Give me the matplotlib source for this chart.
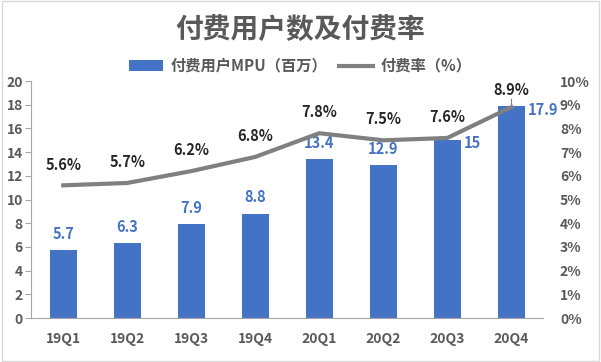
import matplotlib
matplotlib.use("Agg")
import matplotlib.pyplot as plt
from matplotlib.patches import Rectangle

plt.rcParams['font.family'] = ['Noto Sans CJK SC', 'DejaVu Sans']

quarters = ["19Q1", "19Q2", "19Q3", "19Q4", "20Q1", "20Q2", "20Q3", "20Q4"]
mpu = [5.7, 6.3, 7.9, 8.8, 13.4, 12.9, 15, 17.9]
rate = [5.6, 5.7, 6.2, 6.8, 7.8, 7.5, 7.6, 8.9]
mpu_text = ["5.7", "6.3", "7.9", "8.8", "13.4", "12.9", "15", "17.9"]

BLUE = "#4472C4"
GRAY = "#808080"
TXT = "#595959"

fig = plt.figure(figsize=(6.01, 3.62), dpi=100)
fig.patches.append(Rectangle((0.003, 0.004), 0.994, 0.992, transform=fig.transFigure,
                             fill=False, edgecolor="#d9d9d9", lw=1))
ax = fig.add_axes([0.052, 0.1215, 0.852, 0.6545])
ax2 = ax.twinx()

x = range(len(quarters))
bars = ax.bar(x, mpu, width=0.42, color=BLUE, zorder=2)
ln, = ax2.plot(x, rate, color=GRAY, lw=3, zorder=3)

ax.set_xlim(-0.5, len(quarters) - 0.5)
ax.set_ylim(0, 20)
ax.set_yticks(range(0, 21, 2))
ax2.set_ylim(0, 10)
ax2.set_yticks(range(0, 11))
ax2.set_yticklabels([f"{v}%" for v in range(0, 11)])
ax.set_xticks(list(x))
ax.set_xticklabels(quarters)

for a in (ax, ax2):
    for s in ("top", "right"):
        a.spines[s].set_visible(False)
ax2.spines["left"].set_visible(False)
ax2.spines["bottom"].set_visible(False)
ax.spines["left"].set_color("#a6a6a6")
ax.spines["bottom"].set_color("#a6a6a6")
ax.tick_params(axis="y", colors=TXT, labelsize=10, length=4, color="#a6a6a6", pad=2)
ax.tick_params(axis="x", colors=TXT, labelsize=10, length=0, pad=10)
ax2.tick_params(axis="y", colors=TXT, labelsize=10, length=0, pad=12)
for lab in ax.get_xticklabels() + ax.get_yticklabels() + ax2.get_yticklabels():
    lab.set_fontweight("bold")

# bar labels (last two sit to the right of the bar)
for i, (v, t) in enumerate(zip(mpu, mpu_text)):
    if i >= len(mpu) - 2:
        ax.annotate(t, (i + 0.21, v), xytext=(2, -3 if i == len(mpu) - 1 else -2),
                    textcoords="offset points", ha="left", va="center",
                    color=BLUE, fontsize=10.5, fontweight="bold", zorder=4)
    else:
        ax.annotate(t, (i, v), xytext=(0, 12), textcoords="offset points",
                    ha="center", va="center", color=BLUE, fontsize=10.5,
                    fontweight="bold")

for i, r in enumerate(rate):
    off = 12 if i == len(rate) - 1 else 15
    ax2.annotate(f"{r}%", (i, r), xytext=(0, off), textcoords="offset points",
                 ha="center", va="center", color="#262626", fontsize=10.5,
                 fontweight="bold")
ax2.plot([len(rate) - 1, len(rate) - 1], [rate[-1], rate[-1] + 0.35], color=GRAY, lw=0.8)

fig.text(0.5, 0.915, "付费用户数及付费率", ha="center", va="center",
         fontsize=20, fontweight="bold", color=TXT)
fig.legend([bars, ln], ["付费用户MPU（百万）", "付费率（%）"], loc="center",
           bbox_to_anchor=(0.5, 0.818), ncol=2, frameon=False,
           handlelength=2.2, handleheight=0.7, columnspacing=0.8, handletextpad=0.5,
           labelcolor=TXT, prop={"weight": "bold", "size": 11})

fig.savefig("out.png", dpi=100)
